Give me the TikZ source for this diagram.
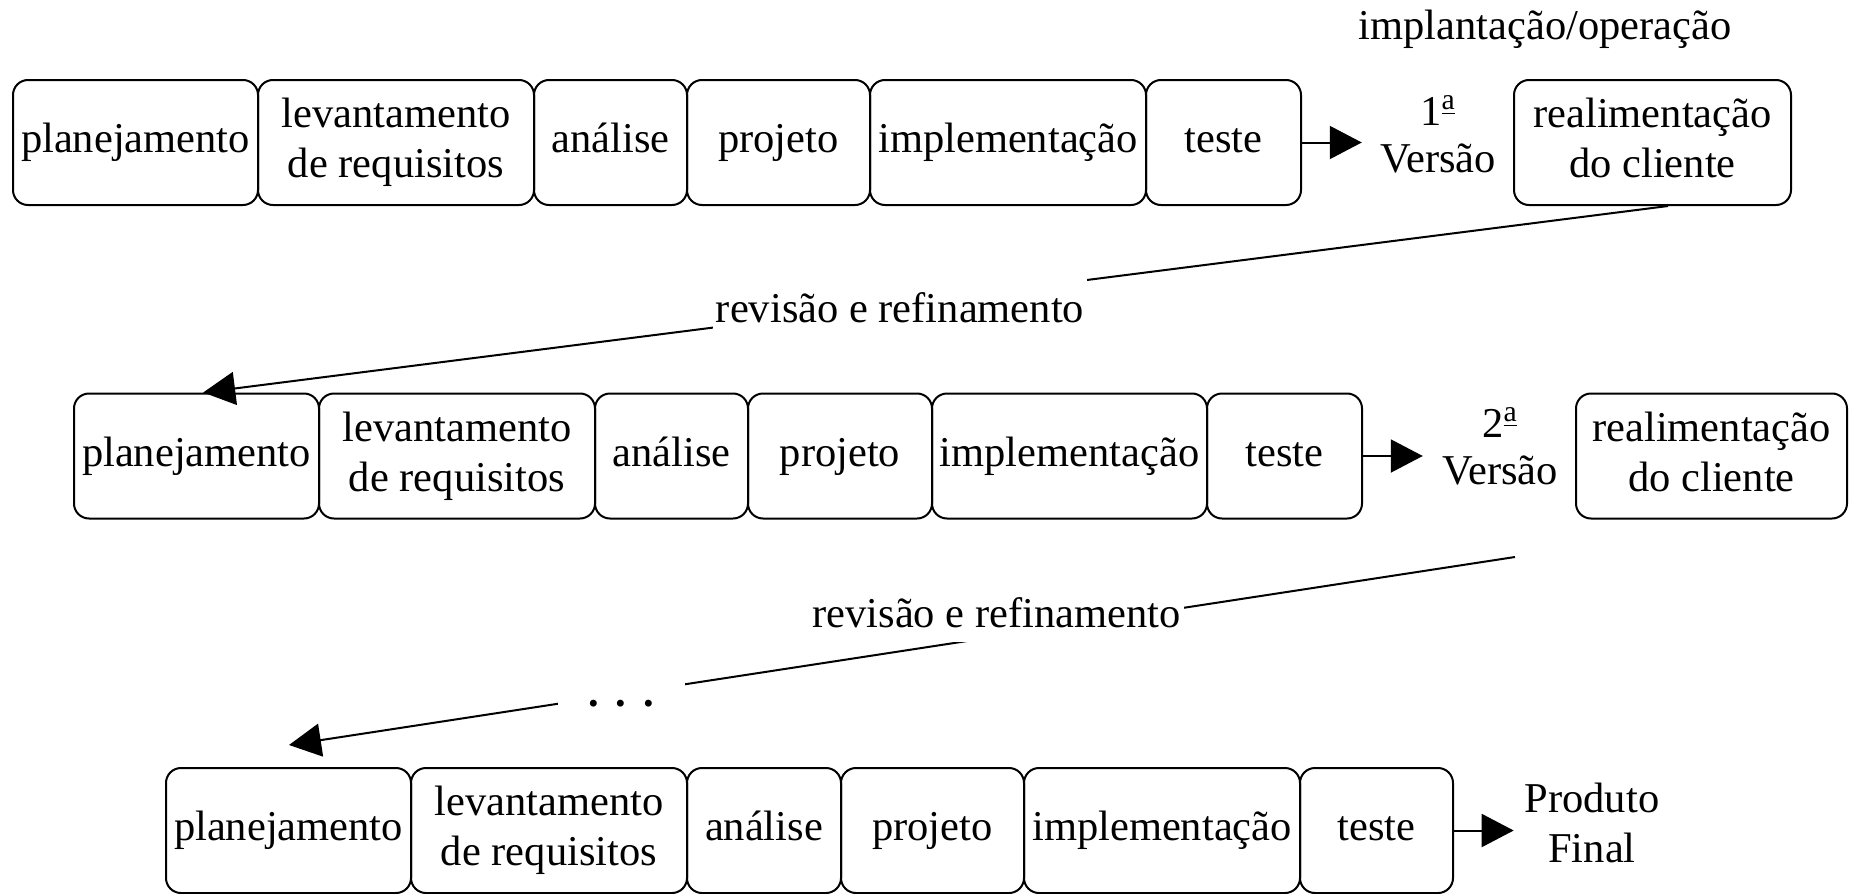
\documentclass[tikz,border=0pt]{standalone}
\usepackage{fontspec}
\setmainfont{Liberation Serif}
\usetikzlibrary{arrows.meta,calc}
\newcommand{\ordA}{\textsuperscript{\underline{a}}}
\begin{document}
\begin{tikzpicture}[x=0.5pt,y=-0.5pt,
  every node/.style={font=\fontsize{21.25pt}{25pt}\selectfont},
  stage/.style={draw, line width=1pt, rounded corners=7.5pt,
    minimum height=62.5pt, inner sep=0pt, align=center},
  version/.style={align=center, inner ysep=0pt},
  conn/.style={line width=1pt, -{Triangle[length=16pt,width=16.5pt]}},
  tag/.style={fill=white, inner xsep=1.5pt}
]
\useasboundingbox (0,0) rectangle (1849,894);

% first iteration
\node[stage, minimum width=122.5pt] (planA) at (135.5,142.5) {\strut planejamento};
\node[stage, minimum width=138pt]   (levA)  at (396,142.5)   {\strut levantamento\\\strut de requisitos};
\node[stage, minimum width=76.5pt]  (anaA)  at (610.5,142.5) {\strut análise};
\node[stage, minimum width=91.5pt]  (proA)  at (778.5,142.5) {\strut projeto};
\node[stage, minimum width=138pt]   (impA)  at (1008,142.5)  {\strut implementação};
\node[stage, minimum width=77.5pt]  (tesA)  at (1223.5,142.5){\strut teste};
\node[version, inner xsep=9pt] (verA) at (1438,138.5) {\strut 1\ordA\\[-1.5pt]\strut Versão};
\node[stage, minimum width=138.5pt] (realA) at (1652.5,142.5){\strut realimentação\\\strut do cliente};
\node (oper) at (1545,30) {\strut implantação/operação};
\draw[conn] (tesA.east) -- (tesA.east -| verA.west);

% second iteration
\node[stage, minimum width=122.5pt] (planB) at (196.5,456)  {\strut planejamento};
\node[stage, minimum width=138pt]   (levB)  at (457,456)    {\strut levantamento\\\strut de requisitos};
\node[stage, minimum width=76.5pt]  (anaB)  at (671.5,456)  {\strut análise};
\node[stage, minimum width=92pt]    (proB)  at (840,456)    {\strut projeto};
\node[stage, minimum width=137.5pt] (impB)  at (1069.5,456) {\strut implementação};
\node[stage, minimum width=77.5pt]  (tesB)  at (1284.5,456) {\strut teste};
\node[version, inner xsep=9.5pt] (verB) at (1500,450.5) {\strut 2\ordA\\[-1.5pt]\strut Versão};
\node[stage, minimum width=135.5pt] (realB) at (1711.5,456) {\strut realimentação\\\strut do cliente};
\draw[conn] (tesB.east) -- (tesB.east -| verB.west);

% final iteration
\node[stage, minimum width=122.5pt] (planC) at (288.5,830.5) {\strut planejamento};
\node[stage, minimum width=138pt]   (levC)  at (549,830.5)   {\strut levantamento\\\strut de requisitos};
\node[stage, minimum width=77pt]    (anaC)  at (764,830.5)   {\strut análise};
\node[stage, minimum width=91.5pt]  (proC)  at (932.5,830.5) {\strut projeto};
\node[stage, minimum width=138pt]   (impC)  at (1162,830.5)  {\strut implementação};
\node[stage, minimum width=76.5pt]  (tesC)  at (1376.5,830.5){\strut teste};
\node[version, inner xsep=5.3pt] (prodC) at (1592,827) {\strut Produto\\\strut Final};
\draw[conn] (tesC.east) -- (tesC.east -| prodC.west);

% feedback loops
\draw[conn] ($(realA.south west)!0.556!(realA.south east)$)
         -- ($(planB.north west)!0.527!(planB.north east)$);
\node[tag, inner ysep=6pt] (revA) at (900,312) {\strut revisão e refinamento};

\coordinate (fbS) at (1515,557);
\coordinate (fbE) at (289,745);
\draw[conn] (fbS) -- (fbE);
\node[tag, inner ysep=0pt] (revB) at (996.5,617) {\strut revisão e refinamento};
\node[tag, inner sep=0pt, minimum width=63.5pt] (dots) at (621,696)
  {\strut\textbf{.}\kern8.5pt\textbf{.}\kern8.5pt\textbf{.}};
\end{tikzpicture}
\end{document}
